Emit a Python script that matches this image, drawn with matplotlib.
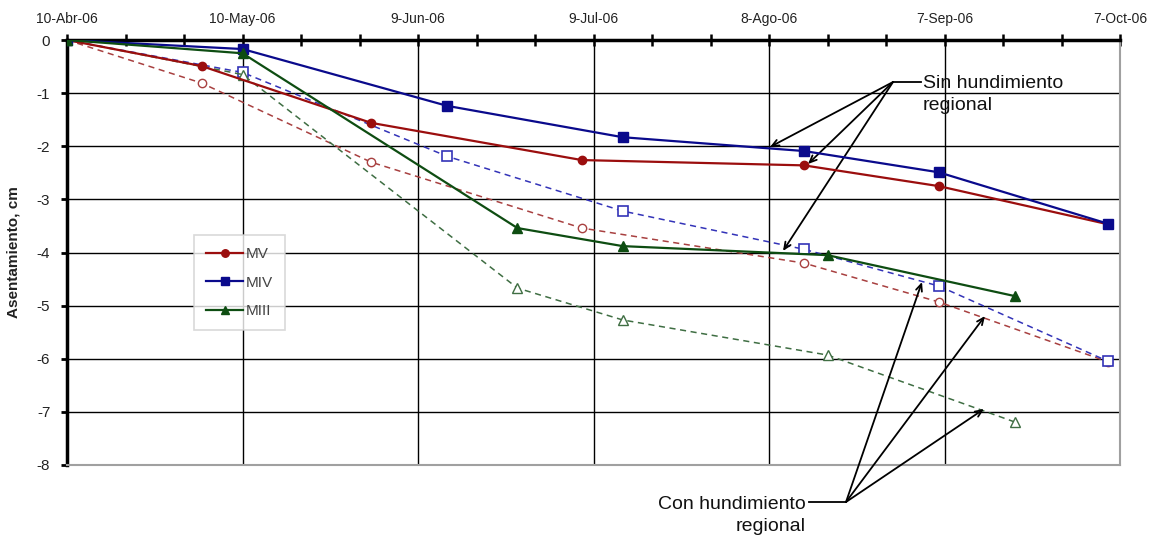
import numpy as np
import matplotlib
matplotlib.use("Agg")
import matplotlib.pyplot as plt
import matplotlib.dates as mdates
from matplotlib.ticker import FixedLocator, MultipleLocator

plt.rcParams['font.family'] = ['Liberation Sans', 'DejaVu Sans']
plt.rcParams['axes.unicode_minus'] = False

# ---------------- data ----------------
x_tick_labels = ['10-Abr-06', '10-May-06', '9-Jun-06', '9-Jul-06', '8-Ago-06', '7-Sep-06', '7-Oct-06']
x_tick_dates = ['2006-04-10', '2006-05-10', '2006-06-09', '2006-07-09', '2006-08-08', '2006-09-07', '2006-10-07']

mv_dates = ['2006-04-10', '2006-05-03', '2006-06-01', '2006-07-07', '2006-08-14', '2006-09-06', '2006-10-05']
mv_sin = [0.0, -0.49, -1.56, -2.26, -2.36, -2.75, -3.47]
mv_con = [0.0, -0.81, -2.30, -3.54, -4.20, -4.93, -6.06]

miv_dates = ['2006-04-10', '2006-05-10', '2006-06-14', '2006-07-14', '2006-08-14', '2006-09-06', '2006-10-05']
miv_sin = [0.0, -0.17, -1.24, -1.83, -2.09, -2.49, -3.46]
miv_con = [0.0, -0.61, -2.19, -3.22, -3.94, -4.63, -6.05]

miii_dates = ['2006-04-10', '2006-05-10', '2006-06-26', '2006-07-14', '2006-08-18', '2006-09-19']
miii_sin = [0.0, -0.25, -3.54, -3.88, -4.05, -4.82]
miii_con = [0.0, -0.65, -4.67, -5.27, -5.93, -7.19]

series_names = ['MV', 'MIV', 'MIII']
# --------------------------------------

def d(s):
    return mdates.date2num(np.datetime64(s))

fig = plt.figure(figsize=(11.57, 5.36), dpi=100)
ax = fig.add_axes([67/1157, 1 - 465/536, (1120-67)/1157, (465-40)/536])

red, blue, green = '#9B0E0E', '#0A0A8C', '#0E4D12'
red_d, blue_d, green_d = '#A84040', '#3333B8', '#3F6E43'

mvx = [d(s) for s in mv_dates]
mivx = [d(s) for s in miv_dates]
miiix = [d(s) for s in miii_dates]

dash = (0, (4, 3))
ax.plot(mvx, mv_con, color=red_d, ls=dash, lw=1.1, marker='o', ms=6, mfc='white', mec=red_d, mew=1.0, zorder=3)
ax.plot(mivx, miv_con, color=blue_d, ls=dash, lw=1.1, marker='s', ms=6.5, mfc='white', mec=blue_d, mew=1.2, zorder=3)
ax.plot(miiix, miii_con, color=green_d, ls=dash, lw=1.1, marker='^', ms=6.5, mfc='white', mec=green_d, mew=1.0, zorder=3)

h1, = ax.plot(mvx, mv_sin, color=red, lw=1.6, marker='o', ms=6, label=series_names[0], zorder=4)
h2, = ax.plot(mivx, miv_sin, color=blue, lw=1.6, marker='s', ms=6.5, label=series_names[1], zorder=4)
h3, = ax.plot(miiix, miii_sin, color=green, lw=1.6, marker='^', ms=6.5, label=series_names[2], zorder=4)

x0 = d(x_tick_dates[0])
ax.set_xlim(x0, d(x_tick_dates[-1]))
ax.set_ylim(-8, 0)

ax.xaxis.set_major_locator(FixedLocator([d(s) for s in x_tick_dates]))
ax.set_xticklabels(x_tick_labels)
ax.xaxis.set_minor_locator(FixedLocator(list(np.arange(x0, d(x_tick_dates[-1]) + 1, 10))))
ax.xaxis.tick_top()
ax.tick_params(axis='x', which='both', direction='inout', length=8, width=1.8, pad=6,
               labelsize=10, top=True, bottom=False, colors='black')
ax.tick_params(axis='x', which='both', labelcolor='#222222')
ax.yaxis.set_major_locator(MultipleLocator(1))
ax.tick_params(axis='y', direction='out', length=4, width=2, pad=8, labelsize=11, labelcolor='#222222')

ax.grid(True, which='major', color='black', lw=1.0)
ax.set_axisbelow(True)

for s in ['left', 'top']:
    ax.spines[s].set_linewidth(2.5)
    ax.spines[s].set_color('black')
for s in ['right', 'bottom']:
    ax.spines[s].set_linewidth(1.5)
    ax.spines[s].set_color('#A0A0A0')

ax.set_ylabel('Asentamiento, cm', fontsize=11, fontweight='bold', labelpad=12, color='#222222')

leg = ax.legend(handles=[h1, h2, h3], loc='upper left',
                bbox_to_anchor=((194-67)/1053, 1 - (235-40)/425),
                frameon=True, fancybox=False, edgecolor='#D0D0D0', fontsize=11,
                handlelength=2.4, labelspacing=0.95, borderpad=0.8, handletextpad=0.2,
                markerscale=0.9, borderaxespad=0)
leg.get_frame().set_linewidth(1.2)
for t in leg.get_texts():
    t.set_color('#444444')

# annotations
def px(xp, yp):
    return (x0 + (xp - 67) / 5.85, -(yp - 40) / 53.125)

arr = dict(arrowstyle='->,head_length=0.5,head_width=0.22', color='black', lw=1.3,
           shrinkA=0, shrinkB=0)

ax.text(*px(923, 75), 'Sin hundimiento\nregional', fontsize=14, ha='left', va='top',
        color='#111111', linespacing=1.35)
ax.plot(*zip(px(921, 82), px(893, 82)), color='black', lw=1.3, clip_on=False)
for tgt in [(770, 147), (808, 164), (783, 251)]:
    ax.annotate('', xy=px(*tgt), xytext=px(893, 82), arrowprops=arr, annotation_clip=False)

ax.text(*px(806, 496), 'Con hundimiento\nregional', fontsize=14, ha='right', va='top',
        multialignment='right', color='#111111', linespacing=1.35)
ax.plot(*zip(px(809, 502), px(846, 502)), color='black', lw=1.3, clip_on=False)
for tgt in [(922, 282), (985, 316), (984, 409)]:
    ax.annotate('', xy=px(*tgt), xytext=px(846, 502), arrowprops=arr, annotation_clip=False)

fig.savefig('out.png', dpi=100)
